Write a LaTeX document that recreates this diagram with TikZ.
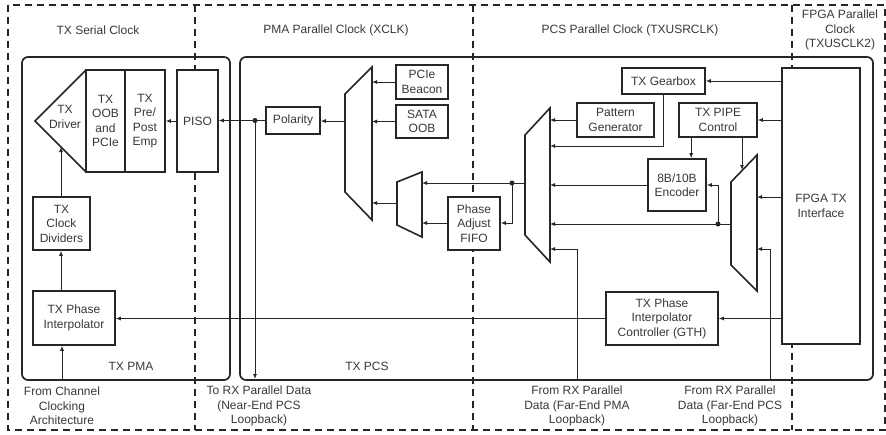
\documentclass[tikz,border=0pt]{standalone}
\usepackage{fontspec}
\setmainfont{Liberation Sans}
\usetikzlibrary{arrows.meta}
\definecolor{linec}{gray}{0.15}
\definecolor{textc}{gray}{0.22}
\newcommand\lblfont{\fontsize{12}{14.5}\selectfont}
% block: name, x1, y1, x2, y2, text
\newcommand\blk[6]{\node[blk, minimum width={(#4-#2)*1pt}, minimum height={(#5-#3)*1pt}] (#1) at ({(#2+#4)/2},{(#3+#5)/2}) {#6};}
\begin{document}
\begin{tikzpicture}[x=1pt,y=-1pt,
  every node/.style={text=textc, font=\lblfont, align=center, inner sep=0pt},
  blk/.style={draw=linec, line width=1.6pt, fill=white},
  region/.style={draw=linec, line width=1.7pt, dash pattern=on 7pt off 5pt},
  container/.style={draw=linec, line width=1.7pt, rounded corners=6pt},
  muxshape/.style={draw=linec, line width=1.6pt, fill=white, line join=miter},
  conn/.style={draw=linec, line width=0.9pt, -{Latex[length=5pt,width=4pt]}},
  wire/.style={draw=linec, line width=0.9pt},
  junction/.style={circle, fill=linec, minimum size=5pt, inner sep=0pt}]
\useasboundingbox (0,0) rectangle (886,434);

% clock domain frame and boundaries
\draw[region] (8,5) rectangle (885,430);
\draw[region] (195,5) -- (195,430);
\draw[region] (473,5) -- (473,430);
\draw[region] (792,5) -- (792,430);

% clock domain titles
\node (tserial) at (98,30) {TX Serial Clock};
\node (tpma) at (336,30) {PMA Parallel Clock (XCLK)};
\node (tpcs) at (630,30) {PCS Parallel Clock (TXUSRCLK)};
\node (tfpga) at (840,30) {FPGA Parallel\\Clock\\(TXUSCLK2)};

% sub-layer containers
\draw[container] (22,57) rectangle (230,380);
\draw[container] (240,57) rectangle (873,380);
\node (lpma) at (131,366) {TX PMA};
\node (lpcs) at (367,366) {TX PCS};

% ---- TX PMA ----
\draw[muxshape] (86,70) -- (35,121) -- (86,172);
\node (drv) at (65,117) {TX\\Driver};
\blk{oob}{86}{70}{125}{172}{TX\\OOB\\and\\PCIe}
\blk{emp}{125}{70}{165}{172}{TX\\Pre/\\Post\\Emp}
\blk{piso}{177}{70}{218}{172}{PISO}
\blk{clkdiv}{33}{197}{90}{250}{TX\\Clock\\Dividers}
\blk{phint}{33}{291}{115}{345}{TX Phase\\Interpolator}

% ---- TX PCS ----
\blk{polar}{266}{107}{320}{134}{Polarity}
\blk{beacon}{396}{65}{448}{99}{PCIe\\Beacon}
\blk{sata}{396}{105}{448}{138}{SATA\\OOB}
\blk{fifo}{448}{197}{500}{250}{Phase\\Adjust\\FIFO}
\blk{gearbox}{622}{68}{705}{94}{TX Gearbox}
\blk{patgen}{577}{103}{654}{137}{Pattern\\Generator}
\blk{pipe}{679}{103}{757}{137}{TX PIPE\\Control}
\blk{enc}{648}{159}{706}{211}{8B/10B\\Encoder}
\blk{picgth}{606}{292}{718}{345}{TX Phase\\Interpolator\\Controller (GTH)}
\blk{fpga}{782}{68}{860}{344}{FPGA TX\\Interface}

% multiplexers
\draw[muxshape] (345,94) -- (372,67) -- (372,220) -- (345,192) -- cycle;
\draw[muxshape] (397,182) -- (422,172) -- (422,237) -- (397,225) -- cycle;
\draw[muxshape] (525,135) -- (550,108) -- (550,262) -- (525,235) -- cycle;
\draw[muxshape] (731,182) -- (757,155) -- (757,291) -- (731,265) -- cycle;

% multiplexer ports
\coordinate (m1out) at (345,121);
\coordinate (m1inA) at (372,82);
\coordinate (m1inB) at (372,121);
\coordinate (m1inC) at (372,203);
\coordinate (m2out) at (397,203);
\coordinate (m2inA) at (422,183);
\coordinate (m2inB) at (422,223);
\coordinate (m3out) at (525,183);
\coordinate (m3inA) at (550,120);
\coordinate (m3inB) at (550,146);
\coordinate (m3inC) at (550,185);
\coordinate (m3inD) at (550,224);
\coordinate (m3inE) at (550,249);
\coordinate (m4out) at (731,224);
\coordinate (m4sel) at (742,170);
\coordinate (m4inA) at (757,197);
\coordinate (m4inB) at (757,249);

% external ends and branch points
\coordinate (nearend) at (255,379);
\coordinate (chanclk) at (62,380);
\coordinate (farpma) at (577,380);
\coordinate (farpcs) at (770,380);
\coordinate (brA) at (512,183);
\coordinate (brB) at (718,224);

% ---- connectors, TX PMA ----
\draw[conn] (piso.west) -- (emp.east);
\draw[conn] (chanclk) -- (chanclk |- phint.south);
\draw[conn] ([xshift=-1pt]chanclk |- phint.north) -- ([xshift=-1pt]chanclk |- clkdiv.south);
\draw[conn] ([xshift=-1pt]chanclk |- clkdiv.north) -- (61,147);

% ---- connectors, TX PCS data path ----
\draw[conn] (polar.west -| nearend) -- (polar.west -| piso.east);
\draw[wire] (polar.west) -- (polar.west -| nearend);
\draw[conn] (polar.west -| nearend) -- (nearend);
\node[junction] (dotA) at (polar.west -| nearend) {};
\draw[conn] (m1out) -- (m1out -| polar.east);
\draw[conn] (beacon.west) -- (m1inA);
\draw[conn] (sata.west) -- (sata.west -| m1inB);
\draw[conn] (m2out) -- (m1inC);
\draw[conn] (m3out) -- (m2inA);
\draw[conn] (brA) -- (brA |- m2inB) -- (m2inB -| fifo.east);
\draw[conn] (fifo.west |- m2inB) -- (m2inB);
\node[junction] (dotB) at (brA) {};
\draw[conn] (patgen.west) -- (m3inA);
\draw[conn] (gearbox.south) -- (gearbox.south |- m3inB) -- (m3inB);
\draw[conn] (enc.west) -- (m3inC);
\draw[conn] (m4out) -- (m3inD);
\draw[conn] (brB) -- (brB |- enc.east) -- (enc.east);
\node[junction] (dotC) at (brB) {};
\draw[conn] (farpma) -- (farpma |- m3inE) -- (m3inE);

% ---- connectors from the FPGA interface ----
\draw[conn] (fpga.west |- gearbox.east) -- (gearbox.east);
\draw[conn] (fpga.west |- pipe.east) -- (pipe.east);
\draw[conn] ([xshift=13pt]pipe.south west) -- ([xshift=13pt]pipe.south west |- enc.north);
\draw[conn] (pipe.south -| m4sel) -- (m4sel);
\draw[conn] (fpga.west |- m4inA) -- (m4inA);
\draw[conn] (farpcs) -- (farpcs |- m4inB) -- (m4inB);
\draw[conn] (fpga.west |- picgth.east) -- (picgth.east);
\draw[conn] (picgth.west) -- (picgth.west -| phint.east);

% ---- external labels ----
\node (lchan) at (62,406) {From Channel\\Clocking\\Architecture};
\node (lnear) at (259,406) {To RX Parallel Data\\(Near-End PCS\\Loopback)};
\node (lfpma) at (577,406) {From RX Parallel\\Data (Far-End PMA\\Loopback)};
\node (lfpcs) at (730,406) {From RX Parallel\\Data (Far-End PCS\\Loopback)};
\end{tikzpicture}
\end{document}
